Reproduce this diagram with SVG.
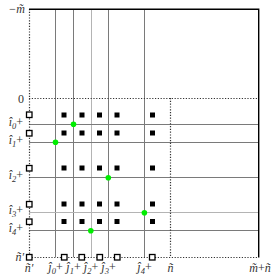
<svg xmlns="http://www.w3.org/2000/svg" width="277" height="279" viewBox="0 0 277 279">
<style>
.g{stroke:#7a7a7a;stroke-width:1;fill:none}
.gl{stroke:#b4b4b4;stroke-width:1;fill:none}
.dot{stroke:#333;stroke-width:1.2;stroke-dasharray:1.2,1.6;fill:none}
.bk{stroke:#000;stroke-width:1.4;fill:none}
.hs{fill:#fff;stroke:#000;stroke-width:1.3}
.fs{fill:#000}
.gd{fill:#00ee00}
text{font-family:"Liberation Serif","DejaVu Serif",serif;font-size:12px;font-style:italic;fill:#333}
.sb{font-size:8.5px}
.up{font-style:normal}
</style>
<rect width="277" height="279" fill="#fff"/>
<g id="grid">
<line class="g" x1="55.5" y1="9" x2="55.5" y2="257"/>
<line class="g" x1="73.5" y1="9" x2="73.5" y2="257"/>
<line class="gl" x1="91.5" y1="9" x2="91.5" y2="257"/>
<line class="g" x1="108.5" y1="9" x2="108.5" y2="257"/>
<line class="g" x1="144.5" y1="9" x2="144.5" y2="257"/>
<line class="g" x1="29" y1="124.5" x2="258" y2="124.5"/>
<line class="g" x1="29" y1="142.5" x2="258" y2="142.5"/>
<line class="g" x1="29" y1="177.5" x2="258" y2="177.5"/>
<line class="gl" x1="29" y1="212.5" x2="258" y2="212.5"/>
<line class="g" x1="29" y1="230.5" x2="258" y2="230.5"/>
</g>
<g id="frame">
<line class="dot" x1="29.5" y1="9" x2="29.5" y2="257"/>
<line class="dot" x1="29" y1="98.5" x2="258" y2="98.5"/>
<line class="dot" x1="29" y1="257.5" x2="258" y2="257.5"/>
<line class="dot" x1="170.5" y1="98" x2="170.5" y2="257"/>
<polyline class="bk" points="29,9.3 258.7,9.3 258.7,257.5"/>
</g>
<g id="filled">
<rect class="fs" x="61.5" y="112.5" width="5" height="5"/>
<rect class="fs" x="79.5" y="112.5" width="5" height="5"/>
<rect class="fs" x="97" y="112.5" width="5" height="5"/>
<rect class="fs" x="114.5" y="112.5" width="5" height="5"/>
<rect class="fs" x="150" y="112.5" width="5" height="5"/>
<rect class="fs" x="61.5" y="130.5" width="5" height="5"/>
<rect class="fs" x="79.5" y="130.5" width="5" height="5"/>
<rect class="fs" x="97" y="130.5" width="5" height="5"/>
<rect class="fs" x="114.5" y="130.5" width="5" height="5"/>
<rect class="fs" x="150" y="130.5" width="5" height="5"/>
<rect class="fs" x="61.5" y="165.5" width="5" height="5"/>
<rect class="fs" x="79.5" y="165.5" width="5" height="5"/>
<rect class="fs" x="97" y="165.5" width="5" height="5"/>
<rect class="fs" x="114.5" y="165.5" width="5" height="5"/>
<rect class="fs" x="150" y="165.5" width="5" height="5"/>
<rect class="fs" x="61.5" y="201.5" width="5" height="5"/>
<rect class="fs" x="79.5" y="201.5" width="5" height="5"/>
<rect class="fs" x="97" y="201.5" width="5" height="5"/>
<rect class="fs" x="114.5" y="201.5" width="5" height="5"/>
<rect class="fs" x="150" y="201.5" width="5" height="5"/>
<rect class="fs" x="61.5" y="219" width="5" height="5"/>
<rect class="fs" x="79.5" y="219" width="5" height="5"/>
<rect class="fs" x="97" y="219" width="5" height="5"/>
<rect class="fs" x="114.5" y="219" width="5" height="5"/>
<rect class="fs" x="150" y="219" width="5" height="5"/>
</g>
<g id="hollow">
<rect class="hs" x="26.5" y="112" width="5.5" height="5.5"/>
<rect class="hs" x="26.5" y="130.5" width="5.5" height="5.5"/>
<rect class="hs" x="26.5" y="165.5" width="5.5" height="5.5"/>
<rect class="hs" x="26.5" y="201.5" width="5.5" height="5.5"/>
<rect class="hs" x="26.5" y="219" width="5.5" height="5.5"/>
<rect class="hs" x="26.5" y="254.5" width="5.5" height="5.5"/>
<rect class="hs" x="61.5" y="254.5" width="5.5" height="5.5"/>
<rect class="hs" x="79" y="254.5" width="5.5" height="5.5"/>
<rect class="hs" x="97" y="254.5" width="5.5" height="5.5"/>
<rect class="hs" x="114.5" y="254.5" width="5.5" height="5.5"/>
<rect class="hs" x="149.5" y="254.5" width="5.5" height="5.5"/>
</g>
<g id="green">
<circle class="gd" cx="73.5" cy="124.3" r="2.8"/>
<circle class="gd" cx="55.5" cy="142.3" r="2.8"/>
<circle class="gd" cx="108.3" cy="177.7" r="2.8"/>
<circle class="gd" cx="144.4" cy="212.7" r="2.8"/>
<circle class="gd" cx="90.8" cy="230.7" r="2.8"/>
</g>
<g id="labels">
<text x="25" y="13" text-anchor="end">−m̃</text>
<text x="24" y="103" text-anchor="end" class="up">0</text>
<text x="23" y="126" text-anchor="end">î<tspan class="sb" dy="2.5">0</tspan><tspan class="up" dy="-2.5">+</tspan></text>
<text x="23" y="144" text-anchor="end">î<tspan class="sb" dy="2.5">1</tspan><tspan class="up" dy="-2.5">+</tspan></text>
<text x="23" y="179" text-anchor="end">î<tspan class="sb" dy="2.5">2</tspan><tspan class="up" dy="-2.5">+</tspan></text>
<text x="23" y="214" text-anchor="end">î<tspan class="sb" dy="2.5">3</tspan><tspan class="up" dy="-2.5">+</tspan></text>
<text x="23" y="232" text-anchor="end">î<tspan class="sb" dy="2.5">4</tspan><tspan class="up" dy="-2.5">+</tspan></text>
<text x="24" y="261" text-anchor="end">ñ′</text>
<text x="29" y="272" text-anchor="middle">ñ′</text>
<text x="55.5" y="271" text-anchor="middle">ĵ<tspan class="sb" dy="2.5">0</tspan><tspan class="up" dy="-2.5">+</tspan></text>
<text x="73.5" y="271" text-anchor="middle">ĵ<tspan class="sb" dy="2.5">1</tspan><tspan class="up" dy="-2.5">+</tspan></text>
<text x="91" y="271" text-anchor="middle">ĵ<tspan class="sb" dy="2.5">2</tspan><tspan class="up" dy="-2.5">+</tspan></text>
<text x="108.5" y="271" text-anchor="middle">ĵ<tspan class="sb" dy="2.5">3</tspan><tspan class="up" dy="-2.5">+</tspan></text>
<text x="144.5" y="271" text-anchor="middle">ĵ<tspan class="sb" dy="2.5">4</tspan><tspan class="up" dy="-2.5">+</tspan></text>
<text x="170.5" y="272" text-anchor="middle">ñ</text>
<text x="260" y="272" text-anchor="middle">m̃<tspan class="up">+</tspan>ñ</text>
</g>
</svg>
